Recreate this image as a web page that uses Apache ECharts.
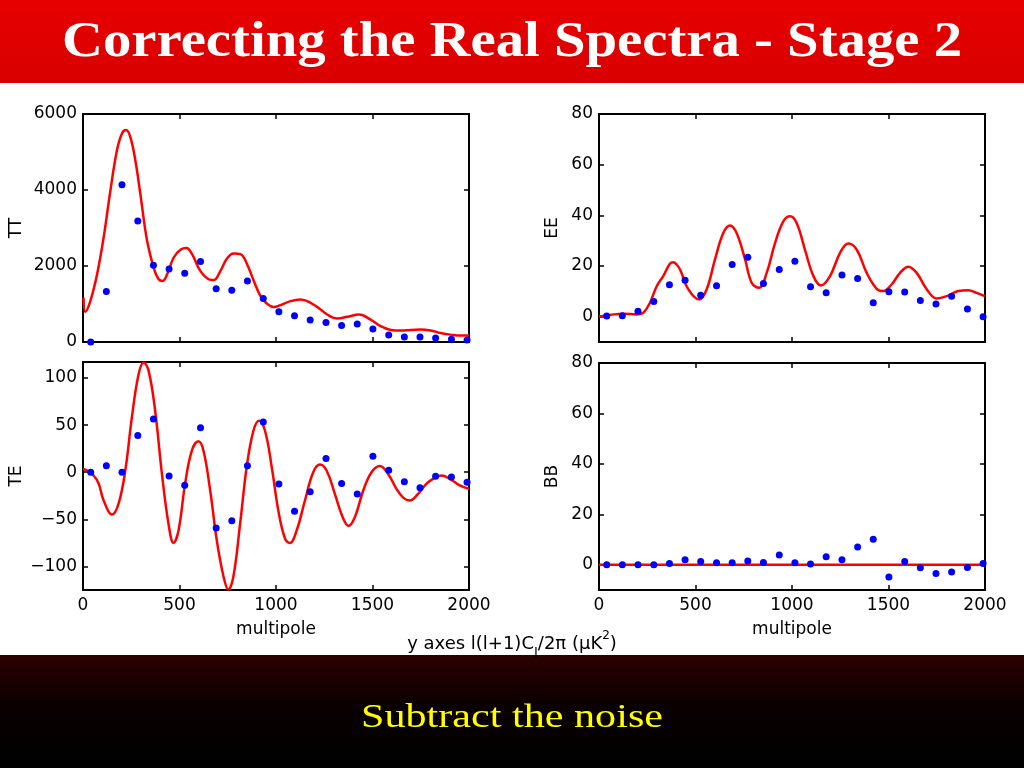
<!DOCTYPE html>
<html><head><meta charset="utf-8">
<script src="https://cdn.jsdelivr.net/npm/echarts@6/dist/echarts.min.js"></script>
<style>html,body{margin:0;padding:0;background:#fff}#c{width:1024px;height:768px}</style>
</head><body><div id="c"></div>
<script>
// ---- data ----
const dotL = [40,121,202,284,365,446,527,609,690,771,852,934,1015,1096,1177,1259,1340,1421,1502,1584,1665,1746,1827,1909,1990];
const ttDots = [0,1330,4140,3185,2020,1924,1809,2118,1403,1359,1606,1147,794,688,582,512,432,476,344,185,132,132,106,71,53];
const teDots = [0,7,0,39,56.5,-3.9,-13.8,47.3,-59.3,-51.5,7,53.3,-12.4,-41.3,-20.8,14.5,-12,-23,17,2.1,-10.2,-16.6,-4.2,-5,-10.6];
const eeDots = [0.3,0.4,2.1,6,12.6,14.4,8.5,12.2,20.6,23.5,13.1,18.6,21.9,11.8,9.4,16.4,15.1,5.5,9.8,9.7,6.4,5,8.1,3,0];
const bbDots = [0,0,0,0,0.5,2,1.3,0.8,0.8,1.5,0.9,3.9,0.8,0.3,3.2,2,7,10.1,-4.8,1.3,-1.2,-3.5,-2.9,-1.1,0.5];

const ttCurveL = [3,12,38,73,107,142,176,202,223,245,271,297,332,366,392,413,436,470,505,536,565,608,652,678,712,747,781,816,850,885,920,954,989,1023,1075,1127,1179,1231,1265,1317,1369,1430,1490,1542,1594,1646,1697,1749,1801,1853,1905,1957,2000];
const ttCurveV = [1165,794,1076,1782,2753,3988,5047,5488,5576,5400,4782,3900,2665,1959,1650,1606,1782,2224,2427,2471,2312,1871,1650,1632,1871,2206,2330,2312,2047,1606,1209,1006,918,971,1076,1121,1032,856,724,618,662,724,591,415,318,300,318,326,300,238,194,168,168];
const teCurveL = [0,21,55,81,107,150,184,219,253,288,314,340,374,409,443,469,495,529,564,598,624,659,693,728,753,779,814,848,883,912,943,978,1012,1047,1072,1107,1150,1193,1228,1262,1305,1345,1376,1409,1452,1495,1538,1581,1624,1659,1693,1736,1779,1822,1857,1900,1952,2000];
const teCurveV = [3.5,1.8,-3.5,-12,-30,-44.8,-33.5,1.8,58,104,116.5,107.6,65,-1.8,-54.7,-75,-61.8,-12.4,23,32.8,23,-19.4,-72,-110.6,-124.6,-111,-54.7,5.3,44,54.7,44,5.3,-40.6,-70.6,-75,-61.8,-30,0,8.1,1.8,-23,-47.6,-57,-47.6,-19.4,0,6.7,-1.8,-17.6,-27,-30,-23,-12.4,-6,-3.5,-7,-14,-17.6];
const eeCurveL = [0,57,126,195,230,264,299,333,368,385,403,420,463,520,558,601,644,679,713,757,791,829,869,912,955,990,1024,1067,1111,1150,1197,1249,1292,1335,1387,1439,1473,1516,1560,1603,1646,1698,1750,1801,1862,1914,1957,2000];
const eeCurveV = [0.1,0.7,1.2,0.9,1.6,5.5,12,16,21,21.5,20.5,18.6,10.8,6.8,10.8,22.6,33,36,33,22.6,13.4,11.4,17.3,29,37.6,39.6,37,26.5,16,12.3,16,25.2,28.9,26.5,17.3,11,10.1,12.7,17.3,19.7,17.3,10.8,7.2,8.1,10.1,10.4,9.4,8.1];
const bbCurveL = [0,2000];
const bbCurveV = [0,0];

const xTicks = [0,500,1000,1500,2000];
const ttTicks = [0,2000,4000,6000];
const teTicks = [-100,-50,0,50,100];
const polTicks = [0,20,40,60,80];

const titleText = 'Correcting the Real Spectra - Stage 2';
const footerText = 'Subtract the noise';
const panelNames = ['TT','EE','TE','BB'];
const xName = 'multipole';

// ---- helpers ----
const zip = (a,b) => a.map((v,i)=>[v,b[i]]);
const AX = '#000';
const labelFont = {color:'#000', fontSize:17, fontFamily:'DejaVu Sans'};
function measure(text, font){
  const c = document.createElement('canvas').getContext('2d');
  c.font = font; return c.measureText(text).width;
}
const grids = [
  {left:83, top:114, width:386, height:228},
  {left:599, top:114, width:386, height:228},
  {left:83, top:362, width:386, height:228},
  {left:599, top:363, width:386, height:227}
];
const yRanges = [
  {min:0, max:6000, ticks:ttTicks},
  {min:-10, max:80, ticks:polTicks},
  {min:-125, max:117, ticks:teTicks},
  {min:-10, max:80, ticks:polTicks}
];
const nameGaps = [58,38,58,38];
const xAxes = [], yAxes = [], series = [];
const curves = [zip(ttCurveL,ttCurveV), zip(eeCurveL,eeCurveV), zip(teCurveL,teCurveV), zip(bbCurveL,bbCurveV)];
const dots = [zip(dotL,ttDots), zip(dotL,eeDots), zip(dotL,teDots), zip(dotL,bbDots)];
const fmt = v => String(v).replace('-', '\u2212');
for (let g=0; g<4; g++){
  const bottom = g>=2;
  const tickCommon = {inside:true, length:5, lineStyle:{color:AX, width:1.5}};
  const lineCommon = {show:true, onZero:false, lineStyle:{color:AX, width:2}};
  xAxes.push({gridIndex:g, type:'value', min:0, max:2000, position:'bottom',
    axisLine:lineCommon, axisTick:{...tickCommon, customValues:xTicks}, splitLine:{show:false},
    axisLabel:{show:bottom, customValues:xTicks, formatter:fmt, margin:7, ...labelFont},
    name: bottom ? xName : '', nameLocation:'middle', nameGap:31, nameTextStyle:labelFont});
  xAxes.push({gridIndex:g, type:'value', min:0, max:2000, position:'top',
    axisLine:lineCommon, axisTick:{...tickCommon, customValues:xTicks}, splitLine:{show:false}, axisLabel:{show:false}});
  const r = yRanges[g];
  yAxes.push({gridIndex:g, type:'value', min:r.min, max:r.max, position:'left',
    axisLine:lineCommon, axisTick:{...tickCommon, customValues:r.ticks}, splitLine:{show:false},
    axisLabel:{customValues:r.ticks, margin:6, formatter:fmt, ...labelFont},
    name:panelNames[g], nameLocation:'middle', nameRotate:90, nameGap:nameGaps[g], nameTextStyle:labelFont});
  yAxes.push({gridIndex:g, type:'value', min:r.min, max:r.max, position:'right',
    axisLine:lineCommon, axisTick:{...tickCommon, customValues:r.ticks}, splitLine:{show:false},
    axisLabel:{show:false}});
  series.push({type:'line', xAxisIndex:2*g, yAxisIndex:2*g, data:curves[g], showSymbol:false,
    smooth:0.4, lineStyle:{color:'#ff0000', width:2.5}, z:2, clip:true});
  series.push({type:'scatter', xAxisIndex:2*g, yAxisIndex:2*g, data:dots[g], symbolSize:7,
    itemStyle:{color:'#0000ff', opacity:1}, z:3});
}

const titleFont = 'bold 50px "Liberation Serif"';
const titleScale = 900 / measure(titleText, titleFont);
const footFont = '34px "Liberation Serif"';
const footScale = 302 / measure(footerText, footFont);

const option = {
  animation:false,
  backgroundColor:'#fff',
  grid: grids,
  xAxis: xAxes,
  yAxis: yAxes,
  series: series,
  graphic: [
    {type:'rect', shape:{x:0,y:0,width:1024,height:83}, z:-1,
      style:{fill:new echarts.graphic.LinearGradient(0,0,0,1,[{offset:0,color:'#e80000'},{offset:1,color:'#d80000'}])}},
    {type:'text', x:512, y:43, scaleX:titleScale, z:10,
      style:{text:titleText, fill:'#fff', font:titleFont, align:'center', verticalAlign:'middle'}},
    {type:'rect', shape:{x:0,y:655,width:1024,height:113}, z:-1,
      style:{fill:new echarts.graphic.LinearGradient(0,0,0,1,[{offset:0,color:'#2c0000'},{offset:0.45,color:'#0a0000'},{offset:1,color:'#000000'}])}},
    {type:'text', x:512, y:718, scaleX:footScale, z:10,
      style:{text:footerText, fill:'#ffff00', font:footFont, align:'center', verticalAlign:'middle'}},
    {type:'text', x:512, y:639, z:10,
      style:{text:'{a|y axes l(l+1)C}{sub|l}{a|/2\u03c0 (\u03bcK}{sup|2}{a|)}', align:'center', verticalAlign:'middle',
        rich:{
          a:{fontSize:18, fontFamily:'DejaVu Sans', fill:'#000', lineHeight:18, verticalAlign:'top', padding:[5,0,0,0]},
          sub:{fontSize:14, fontFamily:'DejaVu Sans', fill:'#000', lineHeight:14, verticalAlign:'top', padding:[17,0,0,0]},
          sup:{fontSize:12, fontFamily:'DejaVu Sans', fill:'#000', lineHeight:12, verticalAlign:'top', padding:[0,0,0,0]}
        }}}
  ]
};
const chart = echarts.init(document.getElementById('c'), null, {renderer:'canvas'});
chart.setOption(option);
</script>
</body></html>
